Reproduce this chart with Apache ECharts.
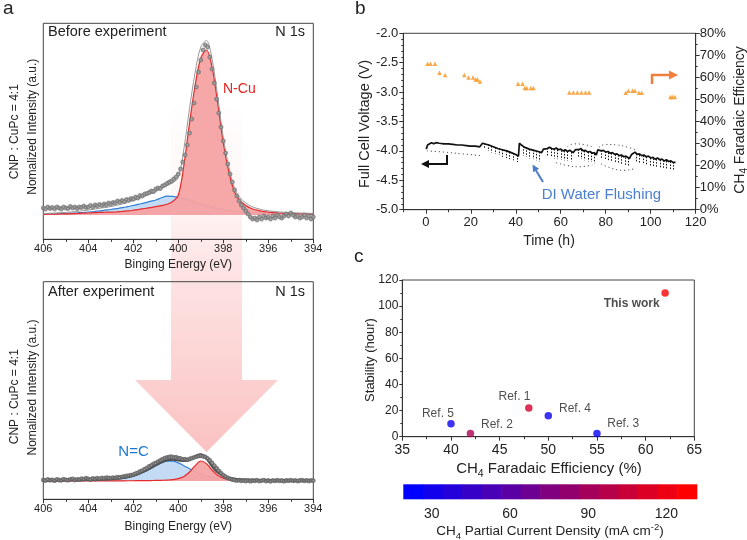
<!DOCTYPE html>
<html><head><meta charset="utf-8">
<script src="https://cdn.jsdelivr.net/npm/echarts@6/dist/echarts.min.js"></script>
<style>html,body{margin:0;padding:0;background:#fff}#c{width:747px;height:540px}</style>
</head><body><div id="c"></div>
<script>
// ---------- Panel a : N 1s XPS (intensity in arbitrary units) ----------
// fitted curves sampled every 0.25 eV from 406 to 394 eV
const beforeBlue = [0.8,0.95,1.1,1.3,1.5,1.8,2.1, 2.5,3.0,3.5,4.1,4.8,5.5,6.4, 7.3,8.4,9.5,10.8,12.1,13.6,15.0,
  17.2,18.8,18.7,17.6,16.2,14.6,12.8, 11.0,9.4,7.9,6.6,5.5,4.6,3.8, 3.1,2.5,2.1,1.8,1.5,1.3,1.15, 1.05,0.95,0.85,0.8,0.7,0.65,0.6];
const beforeRed = [0.7,0.8,0.9,1.0,1.1,1.3,1.5, 1.8,2.0,2.3,2.6,2.75,2.9,3.2, 3.6,4.1,4.8,5.6,6.5,7.4,8.3,
  9.4,10.8,13.5,20,50,92,130, 157,165,148,112,72,43,23, 14,9.5,6.5,4.8,3.6,2.9,2.4, 2.0,1.7,1.5,1.3,1.2,1.1,1.0];
const beforeFit = [1.5,1.75,2.0,2.3,2.6,3.1,3.6, 4.3,5.0,5.8,6.7,7.55,8.4,9.6, 10.9,12.5,14.3,16.4,18.6,21.0,23.3,
  26.6,29.6,32.2,37.6,66.2,106.6,142.8, 168,174.4,155.9,118.6,77.5,47.6,26.8, 17.1,12,8.6,6.6,5.1,4.2,3.55, 3.05,2.65,2.35,2.1,1.9,1.75,1.6];
const afterBlue = [0.4,0.43,0.46,0.5,0.55,0.6,0.67, 0.74,0.82,0.92,1.05,1.25,1.6,2.0, 2.7,3.5,4.9,6.8,9.2,12.1,15.2,
  18.0,19.8,19.8,18.1,15.3,12.2,9.3, 6.8,5.0,3.5,2.7,2.0,1.6,1.25, 1.05,0.92,0.82,0.74,0.67,0.6,0.55, 0.5,0.46,0.43,0.4,0.37,0.35,0.33];
const afterRed = [0.06,0.07,0.07,0.08,0.08,0.09,0.09, 0.1,0.11,0.12,0.13,0.14,0.16,0.18, 0.2,0.23,0.27,0.31,0.38,0.45,0.57,
  0.72,0.95,1.4,2.4,4.6,9.0,15.4, 20,17.4,11.0,5.8,2.9,1.6,1.1, 0.8,0.6,0.49,0.4,0.33,0.28,0.24, 0.21,0.18,0.16,0.14,0.13,0.12,0.11];
const afterFit = [0.46,0.5,0.53,0.58,0.63,0.69,0.76, 0.84,0.93,1.04,1.18,1.39,1.76,2.18, 2.9,3.73,5.17,7.11,9.58,12.55,15.77,
  18.72,20.75,21.2,20.5,19.9,21.2,24.7, 26.8,22.4,14.5,8.5,4.9,3.2,2.35, 1.85,1.52,1.31,1.14,1.0,0.88,0.79, 0.71,0.64,0.59,0.54,0.5,0.47,0.44];
// measured points every 0.1 eV from 406.0 to 394.0 eV
const beforeData = [7,6,8,6.5,7.5,6,8,7,6,8, 7,6.5,8.5,7,8,6.5,8,7.5,9,7.5, 8,9.5,8,10,9,10.5,9.5,11,10,12,
  11,12.5,12,14,13,14.5,13.5,15.5,15,16.5, 16,18,17,19.5,19,21,21.5,22.5,24,23.5, 26,27,26.5,29,30,31.5,33,34,36,38,
  41,46,53,60,70,82,96,112,128,143, 155,165,170,168,158,146,132,116,102,88, 74,62,51,41,33,25,19,14,10,7,
  4,1,-2,-4,-3,-5,-2,-4,-1,-3, -2,-4,-1,-3,0,-2,-3,-1,1,-1, 2,0,-2,-1,-3,-2,0,-3,-1,-4, -2];
const afterData = [1,0.5,1.5,0.8,1.2,0.3,1.6,1.0,0.6,1.8, 1.2,0.8,1.5,2.2,1.0,1.7,1.3,2.4,1.8,2.8, 2.0,1.5,2.6,2.0,2.9,2.2,3.0,2.6,3.4,3.0,
  2.9,3.4,3.0,3.8,3.5,4.2,4.6,5.0,5.4,5.9, 6.3,7.4,8.2,9.5,10.4,11.8,12.9,14.5,15.6,17.2, 18.0,19.4,20.6,21.8,22.9,23.6,24.0,24.4,23.5,23.8,
  22.8,22.6,21.7,21.9,21.2,22.0,22.8,23.6,24.4,25.0, 25.2,24.8,24.1,22.6,20.5,18.0,15.4,12.8,10.2,7.8, 5.9,4.3,3.0,2.2,1.4,1.0,0.4,0.9,0.2,0.7,
  0.0,0.6,-0.2,0.5,0.1,0.8,-0.1,0.4,0.9,0.0, 0.5,-0.3,0.6,0.2,0.8,0.1,0.5,-0.2,0.7,0.3, 0.9,0.2,0.6,-0.1,0.5,0.8,0.2,0.6,0.0,0.7, 0.4];

// ---------- Panel b : stability test ----------
const voltTime = [0.2,0.8,1.5,2.5,3.5,4.5,6,8,10,12,14,16,18,20,22,24,24.8,25.2,26,28,30,32,34,36,38,40,41.2,41.6,42.5,44,46,48,50,51.5,52.3,53,
  54,55,56,57,58,59,60,61,62,63,64,65.5,66.5,67,68,69,70,71,72,73,74,75,75.8,76.5,77,78,79,80,81,82,83,84,85,86,87,88,89,90.5,
  91.5,92,93,94,95,96,97,98,99,100,101,102,103,104,105,106,107,108,109,110,111];
const voltValue = [-3.97,-3.9,-3.87,-3.86,-3.88,-3.86,-3.87,-3.88,-3.88,-3.89,-3.9,-3.9,-3.91,-3.92,-3.92,-3.93,-3.93,-3.87,-3.86,-3.9,-3.93,-3.96,-3.98,-4.0,-4.03,-4.06,-4.09,-3.87,-3.9,-3.94,-3.97,-3.99,-4.01,-4.03,-3.97,-3.95,
  -3.96,-3.94,-3.96,-3.97,-3.95,-3.98,-3.97,-4.0,-3.98,-4.01,-3.99,-4.03,-3.98,-3.96,-3.98,-3.96,-4.0,-3.99,-4.02,-4.01,-4.04,-4.03,-4.07,-3.98,-3.97,-4.0,-3.99,-4.02,-4.01,-4.04,-4.03,-4.06,-4.05,-4.08,-4.07,-4.1,-4.09,-4.13,
  -4.06,-4.04,-4.02,-4.06,-4.05,-4.08,-4.07,-4.1,-4.09,-4.12,-4.11,-4.14,-4.12,-4.15,-4.14,-4.17,-4.15,-4.18,-4.17,-4.2,-4.19];
const spikeTime = [26,27.6,29.2,30.8,32.4,34,35.6,37.2,38.8,40.4, 43,44.5,46,47.5,49,50.5, 54,55.5,57,58.5,60,61.5,63,64.5,
  67.5,69,70.5,72,73.5,75, 78,79.5,81,82.5,84,85.5,87,88.5,90, 93.5,95,96.5,98,99.5,101,102.5,104,105.5,107,108.5,110];
const spikeTop = [-3.87,-3.89,-3.92,-3.94,-3.96,-3.98,-4.0,-4.02,-4.04,-4.07, -3.92,-3.94,-3.97,-3.98,-4.0,-4.02, -3.95,-3.96,-3.97,-3.98,-3.99,-4.0,-4.01,-4.02,
  -3.97,-3.98,-4.0,-4.02,-4.03,-4.05, -3.99,-4.01,-4.03,-4.04,-4.06,-4.07,-4.09,-4.11,-4.12, -4.05,-4.07,-4.08,-4.1,-4.12,-4.13,-4.14,-4.15,-4.16,-4.17,-4.18,-4.19];
const spikeBottom = [-3.97,-4.0,-4.03,-4.05,-4.07,-4.1,-4.12,-4.14,-4.16,-4.19, -4.08,-4.1,-4.13,-4.14,-4.16,-4.18, -4.1,-4.11,-4.13,-4.14,-4.15,-4.16,-4.17,-4.18,
  -4.12,-4.14,-4.16,-4.18,-4.19,-4.21, -4.14,-4.16,-4.18,-4.19,-4.21,-4.22,-4.24,-4.26,-4.27, -4.2,-4.22,-4.23,-4.25,-4.27,-4.28,-4.29,-4.3,-4.31,-4.32,-4.33,-4.34];
const scatterLow0 = [[0.5,-4.0],[8,-4.02],[16,-4.05],[24.5,-4.08]];
const scatterUp1 = [[63,-3.93],[66,-3.88],[70,-3.89],[74,-3.93]];
const scatterUp2 = [[77,-3.94],[80,-3.89],[85,-3.9],[90,-3.94],[94,-3.99]];
const scatterLow1 = [[58,-4.2],[63,-4.25],[68,-4.27],[74,-4.24]];
const scatterLow2 = [[78,-4.22],[83,-4.3],[88,-4.33],[93,-4.3]];
const feTime = [0.8,2.1,4.1,6.1,8.6,17.1,19,21,22.2,23,24.1,41,43,44,44.9,46.7,47.9,63.8,65.6,67.4,69.2,71,72.6,88.9,90.1,91.9,93,94.8,96,108.7,109.6,110.7];
const feValue = [66.2,66.2,66.2,62.1,61.1,61.1,60,60,59.1,59.1,58.1,57.1,57.1,55.2,55.2,55.2,55.2,53.1,53.1,53.1,53.1,53.1,53.1,53,54,54,54,53,53,51.1,51.1,51.1];
const timeTicks = [0,20,40,60,80,100,120];
const timeMinorTicks = [-10,10,30,50,70,90,110];

// ---------- Panel c : comparison ----------
const refNames = ['Ref. 5','Ref. 2','Ref. 1','Ref. 4','Ref. 3','This work'];
const refFE = [40,42,48,50,55,62];
const refStability = [10,2.5,22,16,2.5,110];
const refCurrent = [24,95,112,25,22,130];
const colorbarEdges = [19.1,26.6,34.1,41.6,49.1,56.6,64.1,71.6,79.1,86.6,94.1,101.6,109.1,116.6,124.1,131.6];
const colorbarColors = ['#0000ff','#1200ed','#2400db','#3700c8','#4900b6','#5b00a4','#6d0092','#80007f','#92006d','#a4005b','#b60049','#c80037','#db0024','#ed0012','#ff0000'];
const colorbarTicks = [30,60,90,120];

// ---------- styles ----------
const FONT = 'Liberation Sans';
const labelOffset = {'Ref. 5':[-13,-10],'Ref. 2':[26.6,-8.7],'Ref. 1':[-14.3,-11.6],'Ref. 4':[26.7,-7.3],'Ref. 3':[26.3,-9.4],'This work':[-33.4,10.6]};

const curveE = []; for (let i = 0; i < beforeBlue.length; i++) curveE.push(+(406 - 0.25 * i).toFixed(2));
const dataE = []; for (let i = 0; i < beforeData.length; i++) dataE.push(+(406 - 0.1 * i).toFixed(1));
const pair = (xs, ys) => xs.map((x, i) => [x, ys[i]]);

const chart = echarts.init(document.getElementById('c'), null, {renderer: 'canvas'});
const axCol = '#333';
const lineSt = {color: axCol, width: 1};

function gridBox(left, top, width, height, show) {
  return {left, top, width, height, show: show, borderColor: '#444', borderWidth: 1, containLabel: false, outerBoundsMode: 'none'};
}
function energyAxis(g) {
  return {gridIndex: g, type: 'value', min: 394, max: 406, interval: 2, inverse: true,
    axisLine: {show: true, onZero: false, lineStyle: lineSt},
    axisTick: {show: true, length: 4, lineStyle: lineSt},
    minorTick: {show: true, splitNumber: 2, length: 2.5, lineStyle: lineSt},
    axisLabel: {fontSize: 11, color: '#222', margin: 4, fontFamily: FONT},
    splitLine: {show: false}, minorSplitLine: {show: false}};
}
function hiddenY(g, min, max) {
  return {gridIndex: g, type: 'value', min, max, axisLine: {show: false}, axisTick: {show: false},
    axisLabel: {show: false}, splitLine: {show: false}};
}

const series = [];
function xpsSeries(xi, blue, red, fit, data, fitColor, fitWidth, dotColor) {
  series.push({type: 'line', xAxisIndex: xi, yAxisIndex: xi, data: pair(curveE, blue), smooth: 0.35, symbol: 'none',
    lineStyle: {color: '#2f7fd6', width: 1.2}, areaStyle: {color: '#c3dbf4', opacity: 1, origin: 'auto'}, z: 2});
  series.push({type: 'line', xAxisIndex: xi, yAxisIndex: xi, data: pair(curveE, red), smooth: 0.35, symbol: 'none',
    lineStyle: {color: '#e62a2a', width: 1.2}, areaStyle: {color: '#f6a2a2', opacity: 0.95, origin: 'auto'}, z: 3});
  series.push({type: 'line', xAxisIndex: xi, yAxisIndex: xi, data: pair(curveE, fit), smooth: 0.35, symbol: 'none',
    lineStyle: {color: fitColor, width: fitWidth}, z: 4});
  series.push({type: 'scatter', xAxisIndex: xi, yAxisIndex: xi, data: pair(dataE, data), symbol: 'emptyCircle',
    symbolSize: 2.8, itemStyle: {color: dotColor, borderWidth: 0.7}, z: 5});
}
xpsSeries(0, beforeBlue, beforeRed, beforeFit, beforeData, '#999999', 1, '#767676');
xpsSeries(1, afterBlue, afterRed, afterFit, afterData, '#4d4d4d', 2, '#5e5e5e');

// panel b
series.push({type: 'line', xAxisIndex: 2, yAxisIndex: 2, data: pair(voltTime, voltValue), symbol: 'none',
  lineStyle: {color: '#111', width: 1.7}, z: 4});
series.push({type: 'custom', xAxisIndex: 2, yAxisIndex: 2, data: spikeTime.map((t, i) => [t, spikeTop[i], spikeBottom[i]]),
  encode: {x: 0, y: [1, 2]}, z: 3,
  renderItem: (params, api) => {
    const p1 = api.coord([api.value(0), api.value(1)]);
    const p2 = api.coord([api.value(0), api.value(2)]);
    const x = Math.round(p1[0]) + 0.5;
    return {type: 'line', shape: {x1: x, y1: p1[1], x2: x, y2: p2[1]},
      style: {stroke: '#111', lineWidth: 1, lineDash: [1.5, 1.5]}};
  }});
[scatterLow0, scatterUp1, scatterUp2, scatterLow1, scatterLow2].forEach(arr => {
  series.push({type: 'line', xAxisIndex: 2, yAxisIndex: 2, data: arr, smooth: true, symbol: 'none',
    lineStyle: {color: '#333', width: 1, type: [1, 3]}, z: 3});
});
series.push({type: 'scatter', xAxisIndex: 2, yAxisIndex: 3, data: pair(feTime, feValue), symbol: 'triangle',
  symbolSize: 4.5, itemStyle: {color: '#f7931e'}, z: 5});

// panel c
const cIndex = series.length;
series.push({type: 'scatter', xAxisIndex: 3, yAxisIndex: 4, symbolSize: 7.5,
  data: refFE.map((x, i) => ({name: refNames[i], value: [x, refStability[i], refCurrent[i]],
    label: {show: true, position: 'inside', offset: labelOffset[refNames[i]], formatter: refNames[i],
      fontSize: 12, fontFamily: FONT, color: '#222', fontWeight: refNames[i] === 'This work' ? 'bold' : 'normal'}})),
  z: 5});
// colorbar
series.push({type: 'custom', xAxisIndex: 4, yAxisIndex: 5,
  data: colorbarColors.map((c, i) => [colorbarEdges[i], colorbarEdges[i + 1], i]),
  encode: {x: [0, 1]},
  renderItem: (params, api) => {
    const p0 = api.coord([api.value(0), 1]);
    const p1 = api.coord([api.value(1), 0]);
    return {type: 'rect', shape: {x: p0[0], y: p0[1], width: p1[0] - p0[0] + 0.6, height: p1[1] - p0[1]},
      style: {fill: colorbarColors[api.value(2)]}};
  }});

function txt(text, x, y, o) {
  o = o || {};
  return {type: 'text', x, y, rotation: o.rot || 0, z: 50,
    style: {text, fontSize: o.fs || 12, fontFamily: FONT, fontWeight: o.fw || 'normal', fill: o.color || '#222',
      align: o.align || 'center', verticalAlign: 'middle', lineHeight: o.lh, rich: o.rich}};
}
const subRich = (fs) => ({sub: {fontSize: fs, fontFamily: FONT, lineHeight: fs, verticalAlign: 'bottom'},
  sup: {fontSize: fs, fontFamily: FONT, lineHeight: fs, verticalAlign: 'top'}});

const graphics = [
  // big arrow
  {type: 'polygon', z: -5, silent: true,
    shape: {points: [[171, 108], [242, 108], [242, 380], [278, 380], [206.5, 452], [135, 380], [171, 380]]},
    style: {fill: {type: 'linear', x: 0, y: 0, x2: 0, y2: 1, global: false,
      colorStops: [{offset: 0, color: 'rgba(250,170,170,0.02)'}, {offset: 0.27, color: 'rgba(250,170,170,0.1)'},
        {offset: 0.44, color: 'rgba(250,170,170,0.3)'}, {offset: 1, color: 'rgba(248,155,155,0.62)'}]}}},
  txt('a', 3, 8.3, {fs: 19, align: 'left'}),
  txt('b', 355, 8.3, {fs: 19, align: 'left'}),
  txt('c', 354, 256.6, {fs: 19, align: 'left'}),
  txt('Before experiment', 48, 31.5, {fs: 14.5, align: 'left'}),
  txt('N 1s', 305, 31.5, {fs: 14.5, align: 'right'}),
  txt('After experiment', 48, 292.3, {fs: 14.5, align: 'left'}),
  txt('N 1s', 305, 292.3, {fs: 14.5, align: 'right'}),
  txt('N-Cu', 223, 89.3, {fs: 14, align: 'left', color: '#e8201e'}),
  txt('N=C', 118.3, 451.7, {fs: 15, align: 'left', color: '#1f77d0'}),
  txt('Binging Energy (eV)', 178.3, 265, {fs: 12}),
  txt('Binging Energy (eV)', 178.3, 526.7, {fs: 12}),
  txt('CNP : CuPc = 4:1', 14.7, 131.7, {fs: 12, rot: Math.PI / 2}),
  txt('Nomalized Intensity (a.u.)', 32.7, 126.7, {fs: 12, rot: Math.PI / 2}),
  txt('CNP : CuPc = 4:1', 14.7, 396.7, {fs: 12, rot: Math.PI / 2}),
  txt('Nomalized Intensity (a.u.)', 32.7, 387.5, {fs: 12, rot: Math.PI / 2}),
  txt('Full Cell Voltage (V)', 365, 124, {fs: 14.5, rot: Math.PI / 2}),
  txt('CH{sub|4} Faradaic Efficiency', 740, 120, {fs: 14, rot: Math.PI / 2, lh: 19, rich: subRich(10)}),
  txt('Time (h)', 549, 241, {fs: 14}),
  txt('DI Water Flushing', 541.7, 195, {fs: 15, align: 'left', color: '#4a7fd0'}),
  txt('Stability (hour)', 370.7, 360, {fs: 13, rot: Math.PI / 2}),
  txt('CH{sub|4} Faradaic Efficiency (%)', 549, 469.3, {fs: 15, lh: 20, rich: subRich(10.5)}),
  txt('CH{sub|4} Partial Current Density (mA cm{sup|-2})', 550, 531.7, {fs: 13.5, lh: 19, rich: subRich(9.5)}),
  // black arrow (left axis)
  {type: 'polyline', z: 50, shape: {points: [[447, 155], [447, 164], [428, 164]]}, style: {stroke: '#111', lineWidth: 2, fill: null}},
  {type: 'polygon', z: 50, shape: {points: [[421, 164], [429, 160], [429, 168]]}, style: {fill: '#111'}},
  // orange arrow (right axis)
  {type: 'polyline', z: 50, shape: {points: [[652, 84], [652, 75], [670, 75]]}, style: {stroke: '#f07e3c', lineWidth: 2.5, fill: null}},
  {type: 'polygon', z: 50, shape: {points: [[678, 75], [669, 70.5], [669, 79.5]]}, style: {fill: '#f07e3c'}},
  // blue arrow
  {type: 'line', z: 50, shape: {x1: 543, y1: 182, x2: 536, y2: 170.5}, style: {stroke: '#4a7cc8', lineWidth: 2}},
  {type: 'polygon', z: 50, shape: {points: [[532.5, 164.5], [539.1, 168.7], [533.1, 172.3]]}, style: {fill: '#4a7cc8'}}
];

const option = {
  animation: false,
  backgroundColor: '#ffffff',
  textStyle: {fontFamily: FONT},
  grid: [
    gridBox(43.3, 23.3, 270, 216, true),
    gridBox(43.3, 281.7, 270, 217.6, true),
    gridBox(403.3, 33.3, 292.4, 176.4, true),
    gridBox(402.3, 280, 292, 156.7, true),
    gridBox(403.3, 484.3, 293.4, 15, false)
  ],
  xAxis: [
    energyAxis(0),
    energyAxis(1),
    {gridIndex: 2, type: 'value', min: -10, max: 120, position: 'bottom',
      axisLine: {show: true, onZero: false, lineStyle: lineSt},
      axisTick: {show: true, length: 4, customValues: timeTicks, lineStyle: lineSt},
      axisLabel: {customValues: timeTicks, fontSize: 13, color: '#222', margin: 6, fontFamily: FONT},
      splitLine: {show: false}},
    {gridIndex: 3, type: 'value', min: 35, max: 65, interval: 5,
      axisLine: {show: true, onZero: false, lineStyle: lineSt},
      axisTick: {show: true, length: 4, lineStyle: lineSt},
      minorTick: {show: true, splitNumber: 2, length: 2.5, lineStyle: lineSt},
      axisLabel: {fontSize: 14, color: '#222', margin: 6, fontFamily: FONT},
      splitLine: {show: false}},
    {gridIndex: 4, type: 'value', min: 19.1, max: 131.6,
      axisLine: {show: false, onZero: false}, axisTick: {show: false},
      axisLabel: {customValues: colorbarTicks, fontSize: 14, color: '#222', margin: 8, fontFamily: FONT},
      splitLine: {show: false}},
    {gridIndex: 2, type: 'value', min: -10, max: 120, position: 'bottom',
      axisLine: {show: false, onZero: false},
      axisTick: {show: true, length: 2.5, customValues: timeMinorTicks, lineStyle: lineSt},
      axisLabel: {show: false}, splitLine: {show: false}}
  ],
  yAxis: [
    hiddenY(0, -24.3, 191.7),
    hiddenY(1, -18.3, 199.3),
    {gridIndex: 2, type: 'value', min: -5, max: -2, interval: 0.5,
      axisLine: {show: true, onZero: false, lineStyle: lineSt},
      axisTick: {show: true, length: 4, lineStyle: lineSt},
      minorTick: {show: true, splitNumber: 5, length: 2, lineStyle: lineSt},
      axisLabel: {fontSize: 13, color: '#222', margin: 5, fontFamily: FONT, formatter: v => v.toFixed(1)},
      splitLine: {show: false}},
    {gridIndex: 2, type: 'value', position: 'right', min: 0, max: 80, interval: 10,
      axisLine: {show: true, onZero: false, lineStyle: lineSt},
      axisTick: {show: true, length: 4, lineStyle: lineSt},
      minorTick: {show: true, splitNumber: 2, length: 2, lineStyle: lineSt},
      axisLabel: {fontSize: 13, color: '#222', margin: 4, fontFamily: FONT, formatter: '{value}%'},
      splitLine: {show: false}},
    {gridIndex: 3, type: 'value', min: 0, max: 120, interval: 20,
      axisLine: {show: true, onZero: false, lineStyle: lineSt},
      axisTick: {show: true, length: 3, lineStyle: lineSt},
      minorTick: {show: true, splitNumber: 2, length: 2, lineStyle: lineSt},
      axisLabel: {fontSize: 12, color: '#222', margin: 4, fontFamily: FONT},
      splitLine: {show: false}},
    hiddenY(4, 0, 1)
  ],
  visualMap: [{type: 'continuous', show: false, seriesIndex: cIndex, dimension: 2, min: 19.1, max: 131.6,
    inRange: {color: ['#0000ff', '#ff0000']}}],
  graphic: {elements: graphics},
  series
};
chart.setOption(option);
</script>
</body></html>
